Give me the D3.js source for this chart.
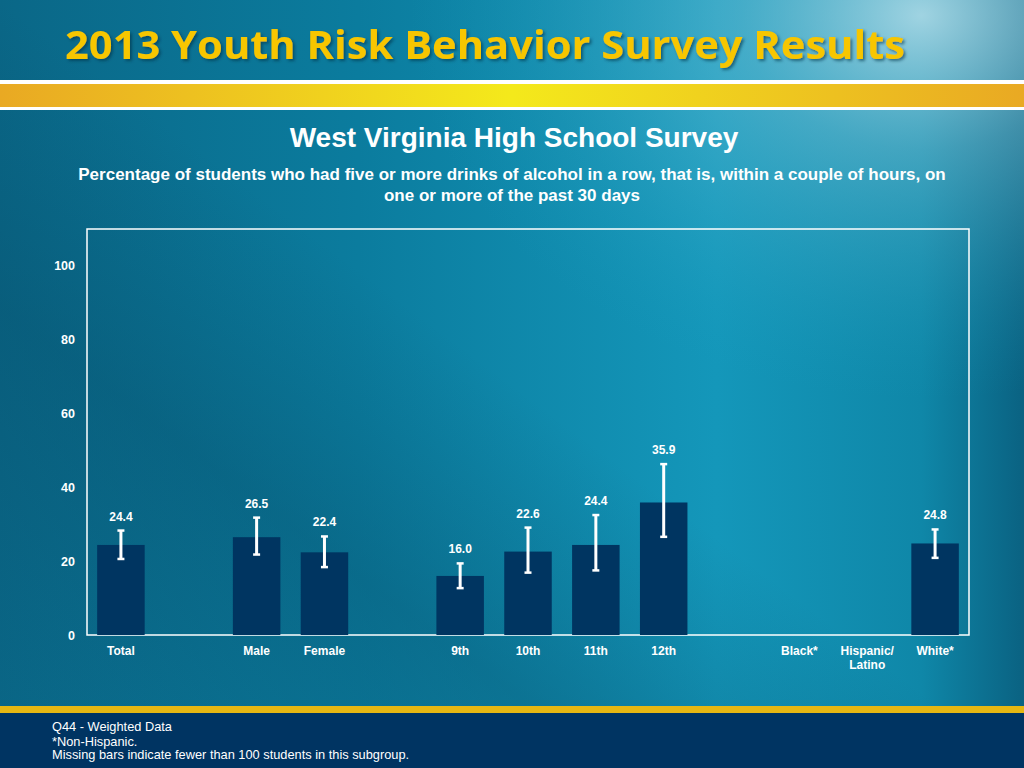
<!DOCTYPE html>
<html>
<head>
<meta charset="utf-8">
<script src="https://cdn.jsdelivr.net/npm/d3@7"></script>
<style>
  html, body { margin: 0; padding: 0; background: #0a7496; }
  svg { display: block; }
  text { font-family: "Liberation Sans", Arial, sans-serif; fill: #fff; }
</style>
</head>
<body>
<svg id="chart" width="1024" height="768"></svg>
<script>
// chart data
var categories = ["Total", "", "Male", "Female", " ", "9th", "10th", "11th", "12th", "  ", "Black*", "Hispanic/\nLatino", "White*"];
var values     = [24.4, null, 26.5, 22.4, null, 16.0, 22.6, 24.4, 35.9, null, null, null, 24.8];
var ciLow      = [20.6, null, 21.8, 18.4, null, 12.7, 16.9, 17.5, 26.6, null, null, null, 20.9];
var ciHigh     = [28.3, null, 31.8, 26.7, null, 19.4, 29.1, 32.5, 46.3, null, null, null, 28.6];
var yTicks     = [0, 20, 40, 60, 80, 100];

var footNotes = ["Q44 - Weighted Data", "*Non-Hispanic.", "Missing bars indicate fewer than 100 students in this subgroup."];

var svg = d3.select("#chart");
var defs = svg.append("defs");

// background gradients
var bg = defs.append("linearGradient").attr("id", "bg").attr("x1", "0").attr("y1", "0").attr("x2", "1").attr("y2", "0");
bg.append("stop").attr("offset", "0%").attr("stop-color", "#0a6787");
bg.append("stop").attr("offset", "35%").attr("stop-color", "#0b7c9e");
bg.append("stop").attr("offset", "70%").attr("stop-color", "#1497ba");
bg.append("stop").attr("offset", "90%").attr("stop-color", "#0f87a8");
bg.append("stop").attr("offset", "100%").attr("stop-color", "#0a6282");

var glow = defs.append("radialGradient").attr("id", "glow")
    .attr("cx", "0.9").attr("cy", "0.02").attr("r", "0.5");
glow.append("stop").attr("offset", "0%").attr("stop-color", "#d0edf5").attr("stop-opacity", 0.75);
glow.append("stop").attr("offset", "35%").attr("stop-color", "#8fd0e2").attr("stop-opacity", 0.4);
glow.append("stop").attr("offset", "100%").attr("stop-color", "#1aa3c4").attr("stop-opacity", 0);

var shade = defs.append("linearGradient").attr("id", "shade").attr("x1", "0").attr("y1", "1").attr("x2", "1").attr("y2", "0");
shade.append("stop").attr("offset", "0%").attr("stop-color", "#064c68").attr("stop-opacity", 0.0);
shade.append("stop").attr("offset", "30%").attr("stop-color", "#064c68").attr("stop-opacity", 0.35);
shade.append("stop").attr("offset", "50%").attr("stop-color", "#064c68").attr("stop-opacity", 0.0);
shade.append("stop").attr("offset", "100%").attr("stop-color", "#064c68").attr("stop-opacity", 0.0);

var yellow = defs.append("linearGradient").attr("id", "yellow").attr("x1", "0").attr("y1", "0").attr("x2", "1").attr("y2", "0");
yellow.append("stop").attr("offset", "0%").attr("stop-color", "#e9a923");
yellow.append("stop").attr("offset", "50%").attr("stop-color", "#f4e91b");
yellow.append("stop").attr("offset", "100%").attr("stop-color", "#e9a923");

var shadow = defs.append("filter").attr("id", "shadow").attr("x", "-5%").attr("y", "-20%").attr("width", "110%").attr("height", "150%");
shadow.append("feDropShadow").attr("dx", 2).attr("dy", 2).attr("stdDeviation", 1.5)
    .attr("flood-color", "#02364a").attr("flood-opacity", 0.6);

svg.append("rect").attr("width", 1024).attr("height", 768).attr("fill", "url(#bg)");
svg.append("rect").attr("width", 1024).attr("height", 768).attr("fill", "url(#shade)");
svg.append("rect").attr("width", 1024).attr("height", 768).attr("fill", "url(#glow)");

// header band
svg.append("rect").attr("x", 0).attr("y", 80).attr("width", 1024).attr("height", 30).attr("fill", "#fff");
svg.append("rect").attr("x", 0).attr("y", 84).attr("width", 1024).attr("height", 23).attr("fill", "url(#yellow)");

svg.append("text")
    .attr("x", 65).attr("y", 59)
    .attr("textLength", 840).attr("lengthAdjust", "spacingAndGlyphs")
    .style("font-family", "'Open Sans', sans-serif")
    .style("font-weight", 700).style("font-size", "40px")
    .style("fill", "#f7c600")
    .attr("filter", "url(#shadow)")
    .text("2013 Youth Risk Behavior Survey Results");

// footer
svg.append("rect").attr("x", 0).attr("y", 706).attr("width", 1024).attr("height", 62).attr("fill", "#e6b712");
svg.append("rect").attr("x", 0).attr("y", 713).attr("width", 1024).attr("height", 55).attr("fill", "#003462");

svg.selectAll("text.foot").data(footNotes).enter().append("text")
    .attr("class", "foot")
    .attr("x", 52).attr("y", function(d, i) { return i === 0 ? 731 : 746 + (i - 1) * 13; })
    .style("font-size", "12.8px")
    .text(function(d) { return d; });

// titles
svg.append("text").attr("x", 514).attr("y", 147).attr("text-anchor", "middle")
    .style("font-weight", "bold").style("font-size", "28px")
    .text("West Virginia High School Survey");

svg.append("text").attr("x", 512).attr("y", 180).attr("text-anchor", "middle")
    .style("font-weight", "bold").style("font-size", "17px")
    .text("Percentage of students who had five or more drinks of alcohol in a row, that is, within a couple of hours, on");
svg.append("text").attr("x", 512).attr("y", 201).attr("text-anchor", "middle")
    .style("font-weight", "bold").style("font-size", "17px")
    .text("one or more of the past 30 days");

// plot area
var plotLeft = 87, plotRight = 969, plotTop = 229, plotBottom = 635;

var x = d3.scaleBand().domain(categories).range([plotLeft, plotRight]).paddingInner(0.3).paddingOuter(0.15);
var y = d3.scaleLinear().domain([0, 110]).range([plotBottom, plotTop]);

svg.append("rect")
    .attr("x", plotLeft).attr("y", plotTop).attr("width", plotRight - plotLeft).attr("height", plotBottom - plotTop)
    .attr("fill", "none").attr("stroke", "#fff").attr("stroke-width", 1.5);

var yAxis = svg.append("g")
    .attr("transform", "translate(" + plotLeft + ",0)")
    .call(d3.axisLeft(y).tickValues(yTicks).tickSize(0).tickPadding(12));
yAxis.select(".domain").remove();
yAxis.selectAll("text").style("font-weight", "bold").style("font-size", "12.5px")
    .style("font-family", "'Liberation Sans', Arial, sans-serif").attr("fill", "#fff");

var idx = d3.range(categories.length);
var cx = function(i) { return x(categories[i]) + x.bandwidth() / 2; };

// x labels (multi-line)
idx.forEach(function(i) {
    var lines = categories[i].trim().split("\n");
    if (!lines[0]) return;
    var t = svg.append("text")
        .attr("x", cx(i))
        .attr("y", plotBottom + 20)
        .attr("text-anchor", "middle")
        .style("font-weight", "bold").style("font-size", "12px");
    lines.forEach(function(l, k) {
        t.append("tspan").attr("x", cx(i)).attr("dy", k === 0 ? 0 : 14).text(l);
    });
});

var present = idx.filter(function(i) { return values[i] !== null; });

svg.selectAll("rect.bar").data(present).enter().append("rect")
    .attr("class", "bar")
    .attr("x", function(i) { return x(categories[i]); })
    .attr("width", x.bandwidth())
    .attr("y", function(i) { return y(values[i]); })
    .attr("height", function(i) { return plotBottom - y(values[i]); })
    .attr("fill", "#003561");

// error bars
var eb = svg.selectAll("g.err").data(present).enter().append("g").attr("class", "err");
eb.append("line")
    .attr("x1", cx).attr("x2", cx)
    .attr("y1", function(i) { return y(ciLow[i]); })
    .attr("y2", function(i) { return y(ciHigh[i]); })
    .attr("stroke", "#fff").attr("stroke-width", 3);
[ciLow, ciHigh].forEach(function(arr) {
    eb.append("line")
        .attr("x1", function(i) { return cx(i) - 3.5; })
        .attr("x2", function(i) { return cx(i) + 3.5; })
        .attr("y1", function(i) { return y(arr[i]); })
        .attr("y2", function(i) { return y(arr[i]); })
        .attr("stroke", "#fff").attr("stroke-width", 2.5);
});

// value labels
svg.selectAll("text.val").data(present).enter().append("text")
    .attr("class", "val")
    .attr("x", cx)
    .attr("y", function(i) { return y(ciHigh[i]) - 10; })
    .attr("text-anchor", "middle")
    .style("font-weight", "bold").style("font-size", "12px")
    .text(function(i) { return values[i].toFixed(1); });
</script>
</body>
</html>
